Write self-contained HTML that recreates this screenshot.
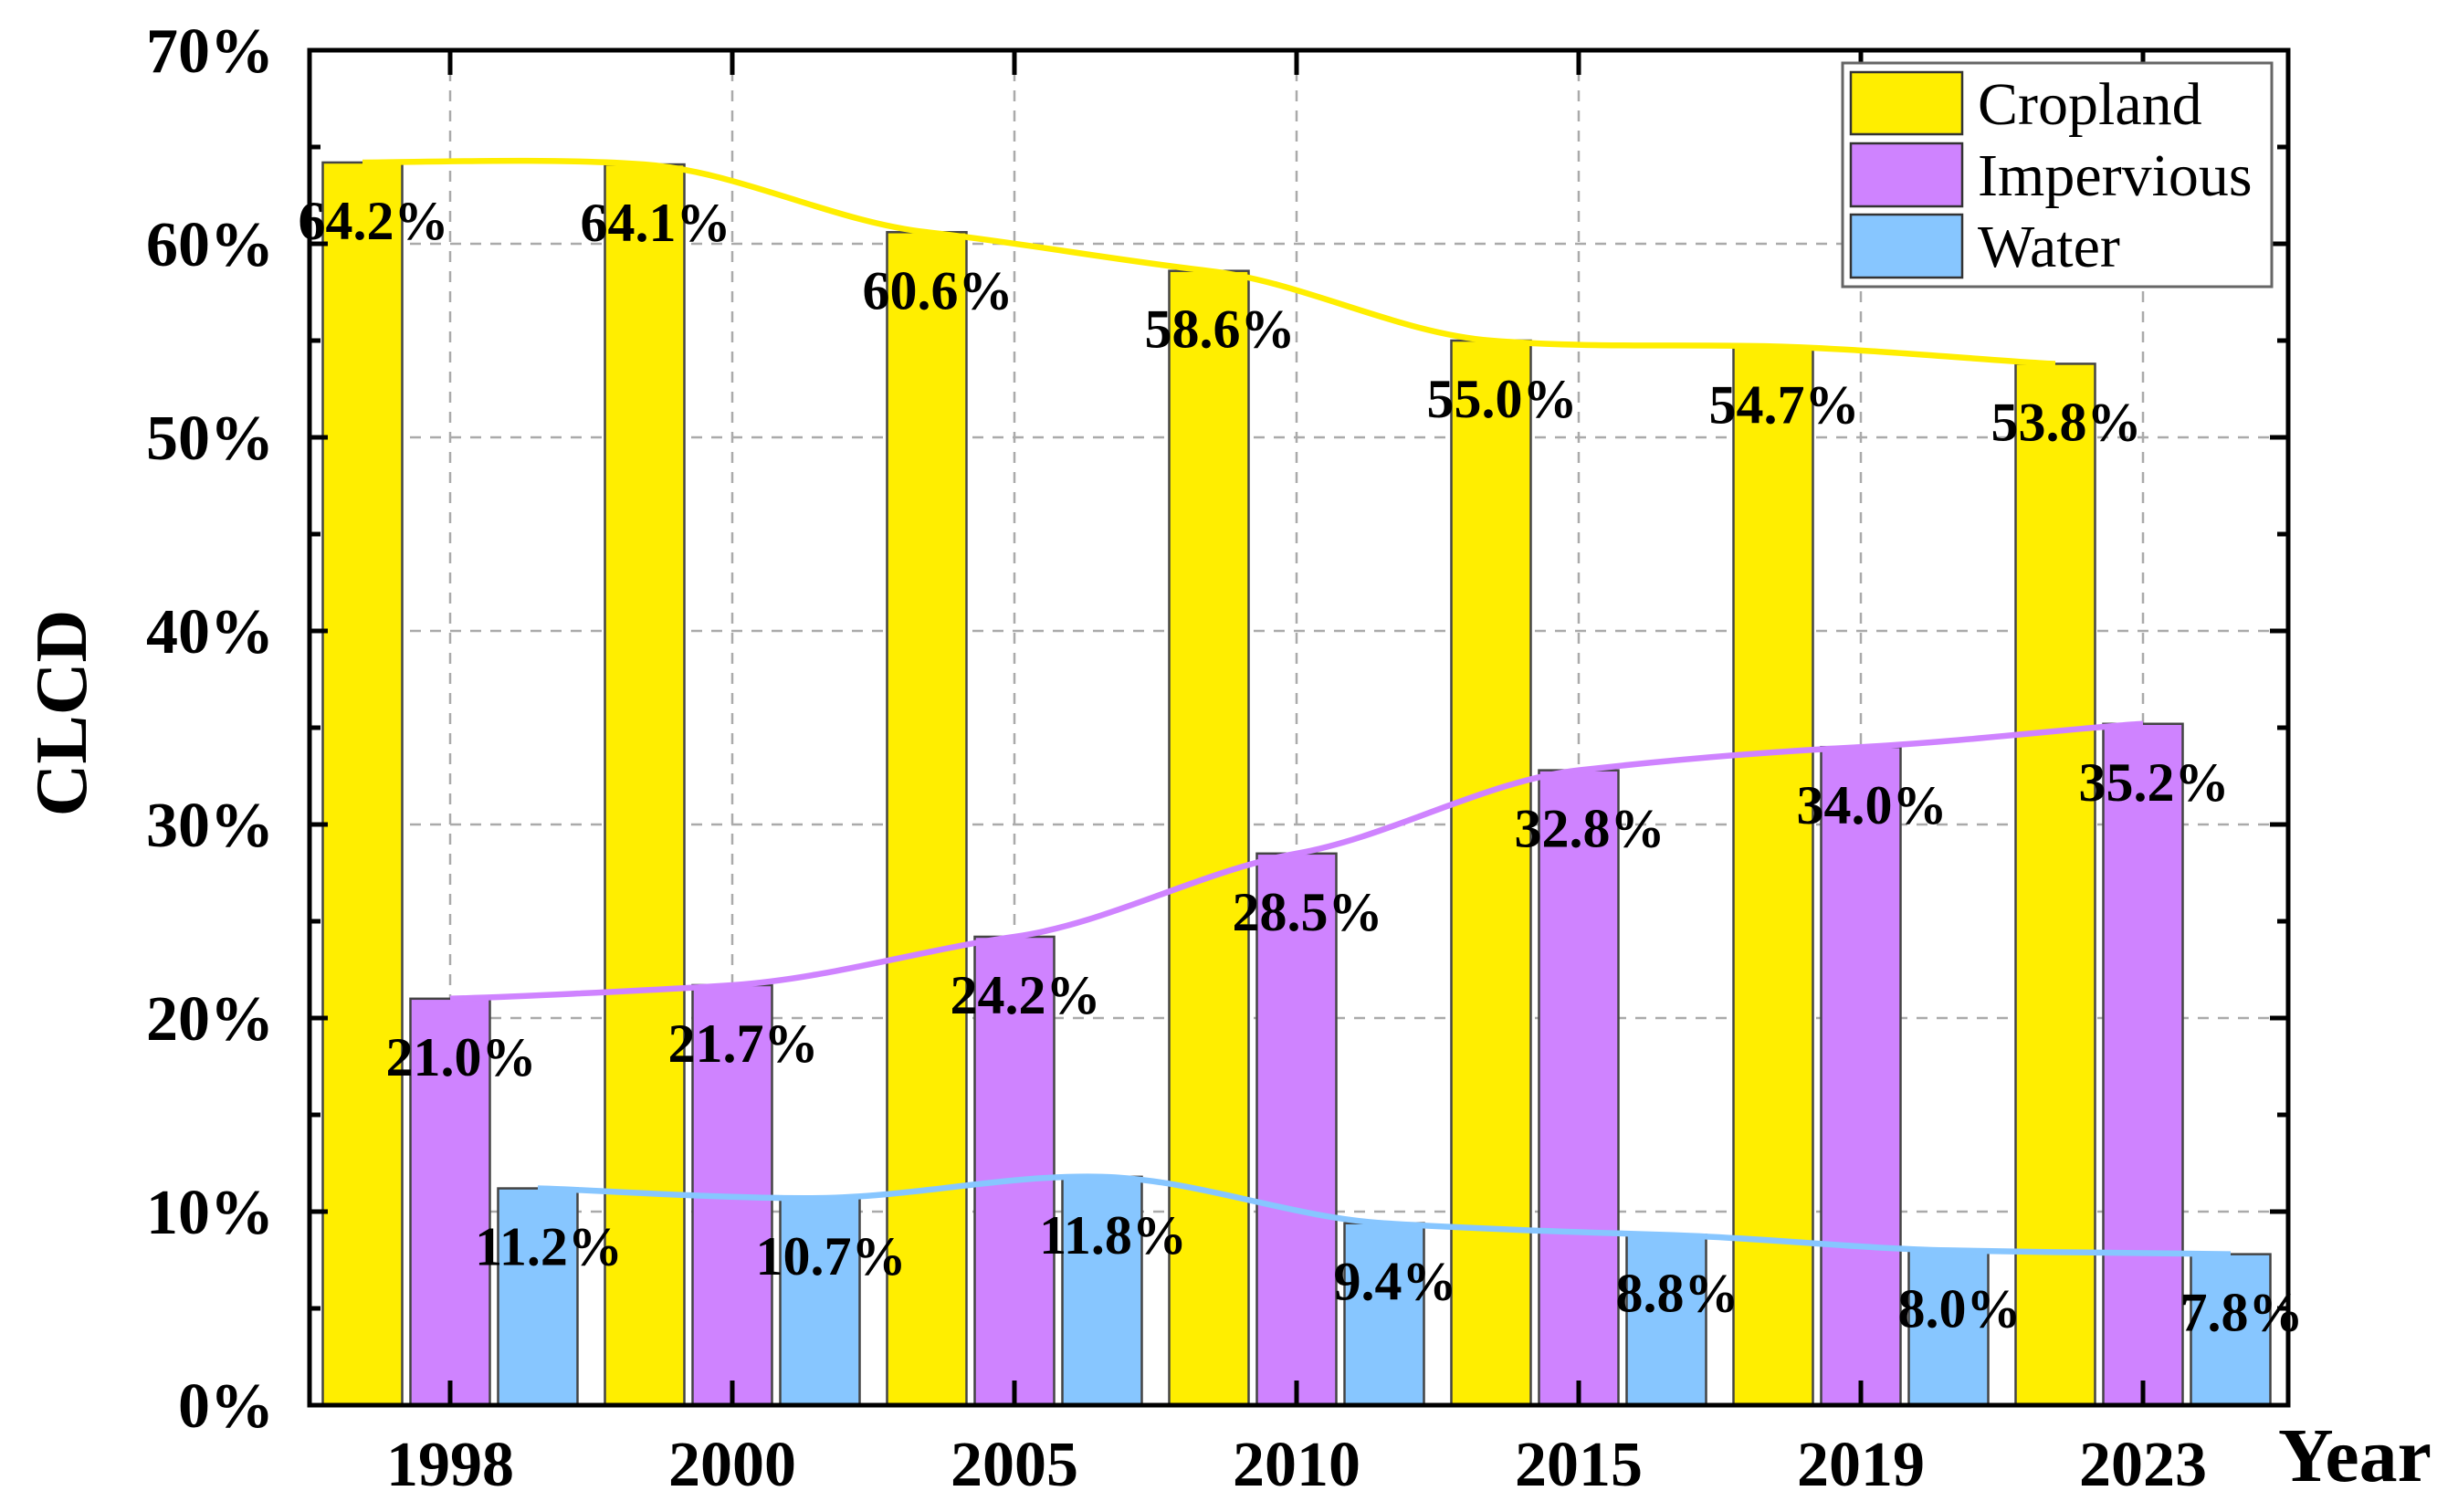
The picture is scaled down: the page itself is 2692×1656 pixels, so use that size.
<!DOCTYPE html>
<html><head><meta charset="utf-8">
<style>
html,body{margin:0;padding:0;background:#fff;}
svg{display:block;}
text{font-family:"Liberation Serif",serif;}
</style></head>
<body>
<svg id="chart" width="2692" height="1656" viewBox="0 0 2692 1656" xmlns="http://www.w3.org/2000/svg">
<g id="grid"></g>
<g id="bars"></g>
<g id="lines"></g>
<g id="labels"></g>
<g id="axes"></g>
<g id="legend">
  <rect x="2018" y="69" width="470" height="245" fill="#fff" stroke="#666" stroke-width="3"/>
  <rect x="2027" y="79" width="122" height="68" fill="#FFEE00" stroke="#333" stroke-width="2.5"/>
  <text x="2166" y="136" font-size="66">Cropland</text>
  <rect x="2027" y="157" width="122" height="69" fill="#CF83FF" stroke="#333" stroke-width="2.5"/>
  <text x="2166" y="214" font-size="66">Impervious</text>
  <rect x="2027" y="235" width="122" height="69" fill="#87C6FF" stroke="#333" stroke-width="2.5"/>
  <text x="2166" y="292" font-size="66">Water</text>
</g>
<text x="0" y="0" transform="translate(94,781) rotate(-90)" text-anchor="middle" font-size="80" font-weight="bold">CLCD</text>
<text x="2495" y="1622" font-size="84" font-weight="bold">Year</text>
</svg>
<script>
const years = ["1998","2000","2005","2010","2015","2019","2023"];
const cropland = [64.2,64.1,60.6,58.6,55.0,54.7,53.8];
const impervious = [21.0,21.7,24.2,28.5,32.8,34.0,35.2];
const water = [11.2,10.7,11.8,9.4,8.8,8.0,7.8];
const yTicks = [0,10,20,30,40,50,60,70];

const NS="http://www.w3.org/2000/svg";
const L=339,R=2506,T=55,B=1539;
const yMax=70;
function y(v){return B-(v/yMax)*(B-T);}
const groupStep=309, firstCenter=493, barStep=96, barW=87;
function gx(i){return firstCenter+groupStep*i;}
function bx(i,s){return gx(i)+(s-1)*barStep;}
function mk(tag,attrs,parent){const e=document.createElementNS(NS,tag);for(const k in attrs)e.setAttribute(k,attrs[k]);parent.appendChild(e);return e;}

const grid=document.getElementById('grid');
yTicks.forEach(v=>{ if(v>0&&v<70){
  const l=mk('line',{x1:L,x2:R,y1:y(v),y2:y(v),stroke:'#aaa','stroke-width':2.5,'stroke-dasharray':'12 10'},grid);
  
  
}});
years.forEach((yr,i)=>{
  const l=mk('line',{x1:gx(i),x2:gx(i),y1:T,y2:B,stroke:'#aaa','stroke-width':2.5,'stroke-dasharray':'12 10'},grid);
  
  
});

const series=[{name:'cropland',vals:cropland,fill:'#FFEE00'},{name:'impervious',vals:impervious,fill:'#CF83FF'},{name:'water',vals:water,fill:'#87C6FF'}];
const bars=document.getElementById('bars'),lines=document.getElementById('lines'),labels=document.getElementById('labels');
series.forEach((s,si)=>{
  s.vals.forEach((v,i)=>{
    const cx=bx(i,si);
    const r=mk('rect',{x:cx-barW/2,y:y(v),width:barW,height:B-y(v),fill:s.fill,stroke:'#444','stroke-width':2.5},bars);
    
    
  });
});
series.forEach((s,si)=>{
  const pts=s.vals.map((v,i)=>[bx(i,si),y(v)]);
  const k=0.6/6;
  let d='M'+pts[0][0]+','+pts[0][1];
  for(let i=0;i<pts.length-1;i++){
    const p0=pts[Math.max(0,i-1)],p1=pts[i],p2=pts[i+1],p3=pts[Math.min(pts.length-1,i+2)];
    const c1=[p1[0]+(p2[0]-p0[0])/6,p1[1]+(p2[1]-p0[1])*k];
    const c2=[p2[0]-(p3[0]-p1[0])/6,p2[1]-(p3[1]-p1[1])*k];
    d+=' C'+c1[0]+','+c1[1]+' '+c2[0]+','+c2[1]+' '+p2[0]+','+p2[1];
  }
  const p=mk('path',{d:d,fill:'none',stroke:s.fill,'stroke-width':6.5},lines);
  
  
  s.vals.forEach((v,i)=>{
    const t=mk('text',{x:bx(i,si)+12,y:y(v)+84,'text-anchor':'middle','font-size':60,'font-weight':'bold'},labels);
    t.textContent=v.toFixed(1)+'%';
    
    
  });
});

const axes=document.getElementById('axes');
const frame=mk('rect',{x:L,y:T,width:R-L,height:B-T,fill:'none',stroke:'#000','stroke-width':5},axes);


yTicks.forEach(v=>{
  const t=mk('text',{x:300,y:y(v)+24,'text-anchor':'end','font-size':70,'font-weight':'bold'},axes);
  t.textContent=v+'%';
  
  
  mk('line',{x1:L,x2:L+20,y1:y(v),y2:y(v),stroke:'#000','stroke-width':5},axes);
  mk('line',{x1:R,x2:R-20,y1:y(v),y2:y(v),stroke:'#000','stroke-width':5},axes);
  if(v<70){const ym=y(v+5);
    mk('line',{x1:L,x2:L+12,y1:ym,y2:ym,stroke:'#000','stroke-width':5},axes);
    mk('line',{x1:R,x2:R-12,y1:ym,y2:ym,stroke:'#000','stroke-width':5},axes);}
});
years.forEach((yr,i)=>{
  const t=mk('text',{x:gx(i),y:1627,'text-anchor':'middle','font-size':70,'font-weight':'bold'},axes);
  t.textContent=yr;
  
  
  mk('line',{x1:gx(i),x2:gx(i),y1:B,y2:B-27,stroke:'#000','stroke-width':5},axes);
  mk('line',{x1:gx(i),x2:gx(i),y1:T,y2:T+27,stroke:'#000','stroke-width':5},axes);
});
</script>
</body></html>
